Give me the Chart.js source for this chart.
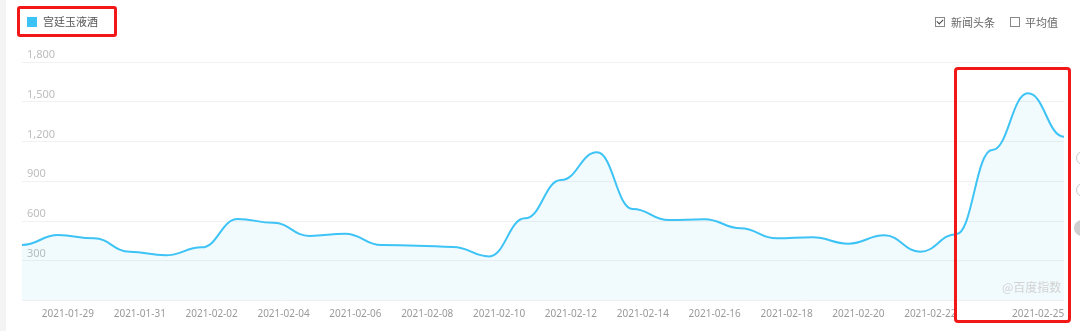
<!DOCTYPE html>
<html>
<head>
<meta charset="utf-8">
<script src="https://cdn.jsdelivr.net/npm/chart.js@4.4.1/dist/chart.umd.min.js"></script>
<style>
  body { margin: 0; background: #fff; }
  #wrap { position: relative; width: 1080px; height: 331px; overflow: hidden; font-family: "Noto Sans CJK SC", "Noto Sans", sans-serif; }
  #chart { position: absolute; left: 0; top: 0; }
  .strip { position: absolute; left: 0; top: 0; width: 6px; height: 331px; background: #f4f4f4; }
  .legend-box { position: absolute; left: 27px; top: 17px; width: 10px; height: 10px; background: #3cc3f6; }
  .legend-text { position: absolute; left: 43px; top: 14px; font-size: 11px; line-height: 15px; color: #555; }
  .mark { position: absolute; border: 3px solid #f21818; border-radius: 3px; box-sizing: border-box; }
  .cb { position: absolute; top: 17px; width: 10px; height: 10px; border: 1px solid #888; box-sizing: border-box; background: #fff; }
  .cb.on::after { content: ''; position: absolute; left: 2px; top: 0px; width: 3px; height: 5px; border: solid #444; border-width: 0 1.5px 1.5px 0; transform: rotate(45deg); }
  .cb-text { position: absolute; top: 15px; font-size: 11px; line-height: 15px; color: #666; }
  .wm { position: absolute; left: 1002px; top: 279px; font-size: 12px; line-height: 16px; color: #d2d2d2; }
  .dot { position: absolute; border-radius: 50%; }
</style>
</head>
<body>
<div id="wrap">
  <canvas id="chart" width="1080" height="331"></canvas>
  <div class="strip"></div>
  <div class="legend-box"></div>
  <div class="legend-text">宫廷玉液酒</div>
  <div class="mark" style="left:17px;top:6px;width:100px;height:31px;"></div>
  <div class="cb on" style="left:935px;"></div>
  <div class="cb-text" style="left:951px;">新闻头条</div>
  <div class="cb" style="left:1010px;"></div>
  <div class="cb-text" style="left:1025px;">平均值</div>
  <div class="wm">@百度指数</div>
  <div class="dot" style="left:1076px;top:151px;width:12px;height:12px;border:1.5px solid #c8c8c8;"></div>
  <div class="dot" style="left:1076px;top:183px;width:12px;height:12px;border:1.5px solid #c8c8c8;"></div>
  <div class="dot" style="left:1074px;top:220px;width:16px;height:16px;background:#cfcfcf;"></div>
  <div class="mark" style="left:954px;top:67px;width:117px;height:256px;border-radius:4px;"></div>
</div>
<script>
const dates = [
  '2021-01-28', '2021-01-29', '2021-01-30', '2021-01-31', '2021-02-01',
  '2021-02-02', '2021-02-03', '2021-02-04', '2021-02-05', '2021-02-06',
  '2021-02-07', '2021-02-08', '2021-02-09', '2021-02-10', '2021-02-11',
  '2021-02-12', '2021-02-13', '2021-02-14', '2021-02-15', '2021-02-16',
  '2021-02-17', '2021-02-18', '2021-02-19', '2021-02-20', '2021-02-21',
  '2021-02-22', '2021-02-23', '2021-02-24', '2021-02-25', '2021-02-26',
];
const shownDates = [
  '2021-01-29', '2021-01-31', '2021-02-02', '2021-02-04', '2021-02-06',
  '2021-02-08', '2021-02-10', '2021-02-12', '2021-02-14', '2021-02-16',
  '2021-02-18', '2021-02-20', '2021-02-22', '2021-02-25',
];
const values = [
  419, 494, 469, 368, 341, 401, 615, 587, 487, 504,
  419, 414, 404, 333, 620, 909, 1118, 690, 607, 613,
  545, 469, 477, 429, 492, 368, 500, 1136, 1564, 1236,
];
const yTicks = [0, 300, 600, 900, 1200, 1500, 1800];

// curve with flat tangents at each point (like the baidu index line)
const smooth = 0.45;
const flatTangents = {
  id: 'flatTangents',
  beforeDraw(chart) {
    chart.getSortedVisibleDatasetMetas().forEach((meta) => {
      meta.dataset.updateControlPoints(chart.chartArea, 'x');
      const pts = meta.data;
      pts.forEach((p, i) => {
        const prev = pts[i - 1] || p;
        const next = pts[i + 1] || p;
        p.cp1x = p.x - (p.x - prev.x) * smooth;
        p.cp1y = p.y;
        p.cp2x = p.x + (next.x - p.x) * smooth;
        p.cp2y = p.y;
      });
    });
  },
};

const ctx = document.getElementById('chart');

new Chart(ctx, {
  type: 'line',
  data: {
    labels: dates,
    datasets: [
      {
        label: '宫廷玉液酒',
        data: values,
        borderColor: '#3dc3f5',
        borderWidth: 2,
        backgroundColor: 'rgba(62,198,245,0.075)',
        fill: 'origin',
        tension: 0.4,
        pointRadius: 0,
      },
    ],
  },
  options: {
    responsive: false,
    animation: false,
    layout: { padding: { left: 22, right: 16, top: 62, bottom: 0 } },
    scales: {
      x: {
        grid: { display: false },
        border: { display: false },
        afterFit: (s) => { s.height = 30.5; },
        ticks: {
          autoSkip: false,
          maxRotation: 0,
          padding: 0,
          labelOffset: 10,
          color: '#9a9a9a',
          font: { family: 'Noto Sans', size: 10 },
          callback: (v, i) => (shownDates.includes(dates[i]) ? dates[i] : ''),
        },
      },
      y: {
        min: 0,
        max: 1800,
        afterFit: (s) => { s.width = 0; },
        afterBuildTicks: (s) => { s.ticks = yTicks.map((v) => ({ value: v })); },
        grid: { color: '#f1f1f1', drawTicks: false },
        border: { display: false },
        ticks: {
          mirror: true,
          padding: 5,
          labelOffset: -7,
          color: '#bdbdbd',
          font: { family: 'Noto Sans', size: 11 },
          callback: (v) => (v === 0 ? '' : v.toLocaleString('en-US')),
        },
      },
    },
    plugins: {
      legend: { display: false },
      tooltip: { enabled: false },
    },
  },
  plugins: [flatTangents],
});
</script>
</body>
</html>
